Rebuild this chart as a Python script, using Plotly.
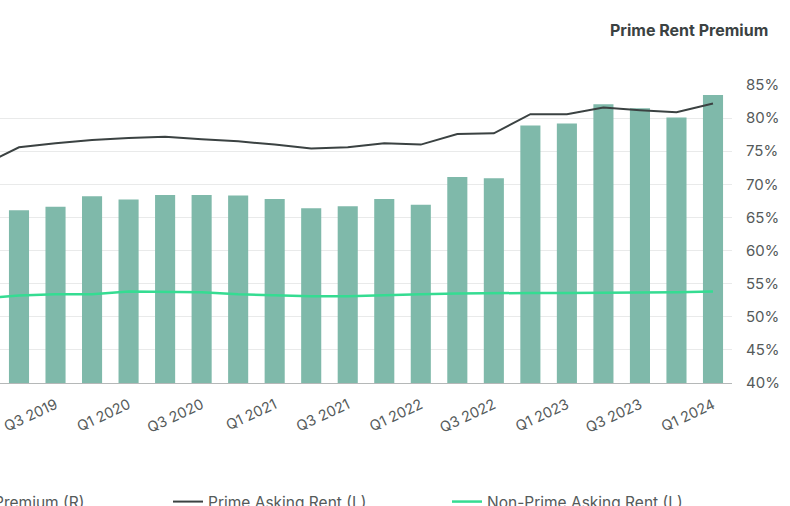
import plotly.graph_objects as go

# Quarter categories (Q1 2019 lies just outside the visible crop on the left)
quarters = ["Q1 2019", "Q2 2019", "Q3 2019", "Q4 2019",
            "Q1 2020", "Q2 2020", "Q3 2020", "Q4 2020",
            "Q1 2021", "Q2 2021", "Q3 2021", "Q4 2021",
            "Q1 2022", "Q2 2022", "Q3 2022", "Q4 2022",
            "Q1 2023", "Q2 2023", "Q3 2023", "Q4 2023",
            "Q1 2024"]

# Prime rent premium (right axis, %)
premium = [None, 66.1, 66.6, 68.2, 67.7, 68.4, 68.4, 68.3, 67.8, 66.4, 66.7,
           67.8, 66.9, 71.1, 70.9, 78.9, 79.2, 82.1, 81.5, 80.1, 83.5]

# Asking rents (left axis, $/sf)
prime_rent = [52.9, 55.6, 56.2, 56.7, 57.0, 57.2, 56.8, 56.5, 56.0, 55.4, 55.6,
              56.2, 56.0, 57.6, 57.7, 60.6, 60.6, 61.6, 61.2, 60.9, 62.2]
nonprime_rent = [32.8, 33.2, 33.4, 33.4, 33.8, 33.8, 33.7, 33.4, 33.2, 33.1, 33.1,
                 33.3, 33.4, 33.5, 33.6, 33.6, 33.6, 33.6, 33.6, 33.7, 33.8]

tick_labels = [q for q in quarters if q.startswith("Q1") or q.startswith("Q3")]
right_ticks = [40, 45, 50, 55, 60, 65, 70, 75, 80, 85]
right_tick_text = [f"{v}%" for v in right_ticks]

FONT = "Inter, Lato, sans-serif"
TXT = "#555a5a"

PLOT_W = 732
PLOT_TOP, PLOT_BOT = 85, 383
PLOT_H = PLOT_BOT - PLOT_TOP


def px_x(p):
    return p / PLOT_W


def px_y(p):
    return (PLOT_BOT - p) / PLOT_H


fig = go.Figure()
fig.add_trace(go.Bar(
    x=quarters, y=premium, name="Prime Rent Premium (R)",
    marker=dict(color="#7fb9aa", line=dict(width=0)),
    width=0.55, yaxis="y", legend="legend",
))
fig.add_trace(go.Scatter(
    x=quarters, y=prime_rent, name="Prime Asking Rent (L)",
    mode="lines", line=dict(color="#3b4242", width=2), yaxis="y2",
    legend="legend2",
))
fig.add_trace(go.Scatter(
    x=quarters, y=nonprime_rent, name="Non-Prime Asking Rent (L)",
    mode="lines", line=dict(color="#35dc92", width=2.5), yaxis="y2",
    legend="legend3",
))

legend_common = dict(
    orientation="h", xanchor="left", yanchor="middle", y=px_y(502),
    font=dict(size=15.5, color=TXT), bgcolor="rgba(0,0,0,0)",
)

fig.update_layout(
    width=790, height=506,
    margin=dict(l=0, r=790 - PLOT_W, t=PLOT_TOP, b=506 - PLOT_BOT, autoexpand=False),
    paper_bgcolor="white", plot_bgcolor="white",
    font=dict(family=FONT, size=14, color=TXT),
    xaxis=dict(
        type="category", range=[0.48, 20.52],
        tickmode="array", tickvals=tick_labels, ticktext=tick_labels,
        tickangle=-25, showgrid=False, showline=True, linecolor="#b5b8b8",
        linewidth=1, ticks="", ticklabelstandoff=7,
        tickfont=dict(size=14.5, color=TXT),
    ),
    yaxis=dict(
        side="right", range=[40, 85], tickmode="array",
        tickvals=right_ticks, ticktext=right_tick_text,
        showgrid=True, gridcolor="#e9eaea", gridwidth=1,
        zeroline=False, ticks="", ticklabelstandoff=13,
        tickfont=dict(size=15, color=TXT),
    ),
    yaxis2=dict(
        side="left", overlaying="y", range=[20, 65], showgrid=False,
        zeroline=False, showticklabels=False,
    ),
    showlegend=True,
    legend=dict(x=px_x(-130), **legend_common),
    legend2=dict(x=px_x(168), **legend_common),
    legend3=dict(x=px_x(447), **legend_common),
    annotations=[dict(
        text="<b>Prime Rent Premium</b>", xref="paper", yref="paper",
        x=px_x(770), y=px_y(30), xanchor="right", yanchor="middle",
        showarrow=False, font=dict(size=16, color="#3b4242", family=FONT),
    )],
)

fig.write_html("out.html")
